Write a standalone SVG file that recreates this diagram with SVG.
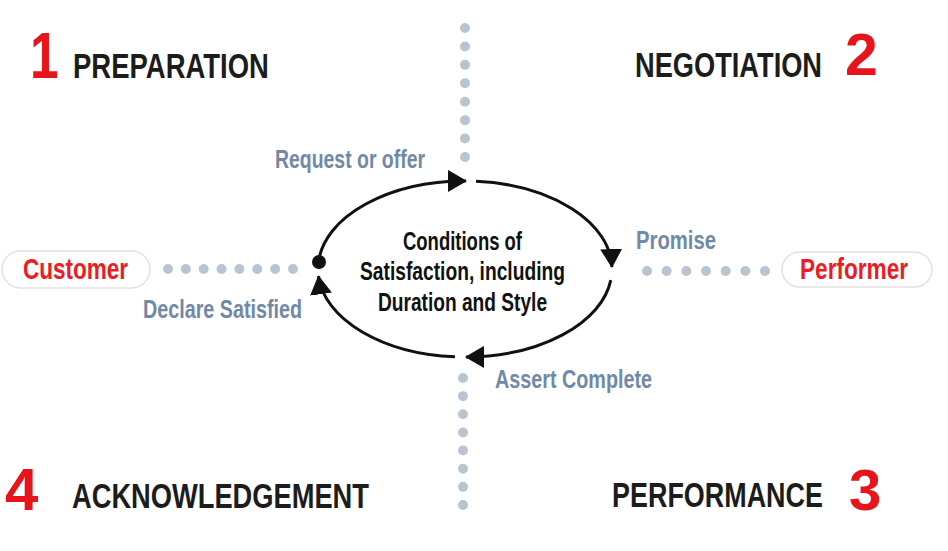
<svg xmlns="http://www.w3.org/2000/svg" width="948" height="551" viewBox="0 0 948 551">
<style>
.bg{fill:#ffffff}
.num{font-family:"Liberation Sans","Arial",sans-serif;font-weight:bold;fill:#e8141c}
.head{font-family:"Liberation Sans","Arial",sans-serif;font-weight:bold;font-size:35px;fill:#1c1c1c}
.lbl{font-family:"Liberation Sans","Arial",sans-serif;font-weight:bold;font-size:25px;fill:#7189a6}
.ctr{font-family:"Liberation Sans","Arial",sans-serif;font-weight:bold;font-size:25px;fill:#111111;text-anchor:middle}
.role{font-family:"Liberation Sans","Arial",sans-serif;font-weight:bold;font-size:30px;fill:#ec1c24}
.pill{fill:#ffffff;stroke:#e2e2e2;stroke-width:1.5}
.dots{fill:none;stroke:#b9c4d1;stroke-width:10;stroke-linecap:round}
.arc{fill:none;stroke:#111111;stroke-width:3}
</style>
<defs>
<marker id="ah" markerUnits="userSpaceOnUse" markerWidth="19" markerHeight="22" refX="18" refY="11" orient="auto" viewBox="0 0 19 22">
<path d="M0,0 L19,11 L0,22 Z" fill="#111111"/>
</marker>
</defs>
<rect class="bg" x="0" y="0" width="948" height="551"/>

<g id="dividers">
<line class="dots" x1="465" y1="28" x2="465" y2="157.1" stroke-dasharray="0 18.43"/>
<line class="dots" x1="463" y1="378" x2="463" y2="505.1" stroke-dasharray="0 18.14"/>
</g>

<g id="connectors">
<line class="dots" x1="168" y1="269" x2="293.1" y2="269" stroke-dasharray="0 17.86"/>
<line class="dots" x1="647" y1="271" x2="765.1" y2="271" stroke-dasharray="0 19.67"/>
<path class="arc" d="M318.5,261.7 A147,88 0 0 1 466,181" marker-end="url(#ah)"/>
<path class="arc" d="M476,181.3 A147,88 0 0 1 611.9,267" marker-end="url(#ah)"/>
<path class="arc" d="M610.8,280.1 A147,88 0 0 1 466,357" marker-end="url(#ah)"/>
<path class="arc" d="M455,356.8 A147,88 0 0 1 318.5,276.3" marker-end="url(#ah)"/>
<circle cx="319" cy="262" r="7" fill="#111111"/>
<text class="lbl" transform="translate(275,168) scale(0.77,1)" textLength="194.8" lengthAdjust="spacingAndGlyphs">Request or offer</text>
<text class="lbl" transform="translate(636,249) scale(0.77,1)" textLength="103.9" lengthAdjust="spacingAndGlyphs">Promise</text>
<text class="lbl" transform="translate(495,388) scale(0.77,1)" textLength="203.9" lengthAdjust="spacingAndGlyphs">Assert Complete</text>
<text class="lbl" transform="translate(143,318) scale(0.77,1)" textLength="206.5" lengthAdjust="spacingAndGlyphs">Declare Satisfied</text>
</g>

<g id="center">
<text class="ctr" transform="translate(462.5,250) scale(0.76,1)" textLength="156.6" lengthAdjust="spacingAndGlyphs">Conditions of</text>
<text class="ctr" transform="translate(462.5,280) scale(0.76,1)" textLength="269.7" lengthAdjust="spacingAndGlyphs">Satisfaction, including</text>
<text class="ctr" transform="translate(462.5,311) scale(0.76,1)" textLength="222.4" lengthAdjust="spacingAndGlyphs">Duration and Style</text>
</g>

<g id="customer">
<rect class="pill" x="2" y="251" width="148" height="37" rx="18.5"/>
<text class="role" transform="translate(23,279) scale(0.75,1)" textLength="140" lengthAdjust="spacingAndGlyphs">Customer</text>
</g>

<g id="performer">
<rect class="pill" x="782" y="252" width="150" height="35" rx="17.5"/>
<text class="role" transform="translate(800,279) scale(0.75,1)" textLength="144" lengthAdjust="spacingAndGlyphs">Performer</text>
</g>

<g id="preparation">
<text class="num" transform="translate(30,78) scale(0.8,1)" font-size="64">1</text>
<text class="head" transform="translate(73,78) scale(0.77,1)" textLength="254.5" lengthAdjust="spacingAndGlyphs">PREPARATION</text>
</g>

<g id="negotiation">
<text class="head" transform="translate(635,77) scale(0.77,1)" textLength="242.9" lengthAdjust="spacingAndGlyphs">NEGOTIATION</text>
<text class="num" x="845" y="75" font-size="59">2</text>
</g>

<g id="performance">
<text class="head" transform="translate(612,507) scale(0.77,1)" textLength="274" lengthAdjust="spacingAndGlyphs">PERFORMANCE</text>
<text class="num" x="849" y="510" font-size="58">3</text>
</g>

<g id="acknowledgement">
<text class="num" x="5" y="510" font-size="60">4</text>
<text class="head" transform="translate(72,508) scale(0.77,1)" textLength="385.7" lengthAdjust="spacingAndGlyphs">ACKNOWLEDGEMENT</text>
</g>
</svg>
